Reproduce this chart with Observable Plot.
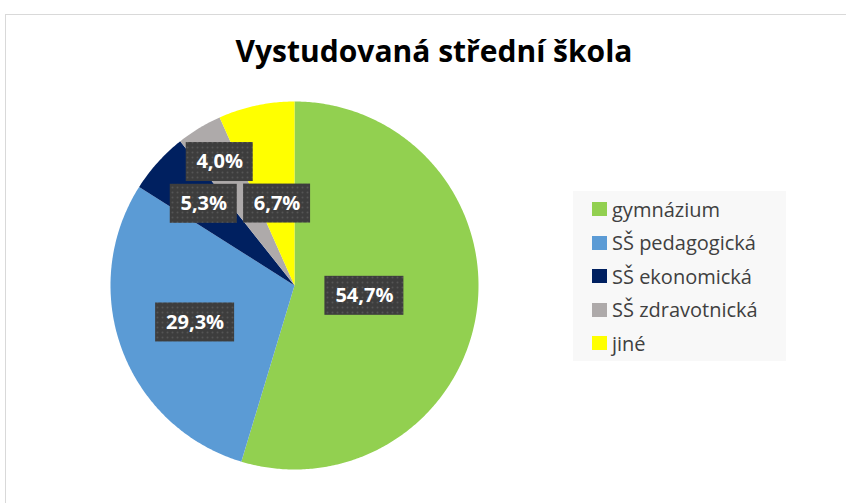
<!DOCTYPE html>
<html>
<head>
<meta charset="utf-8">
<script src="https://cdn.jsdelivr.net/npm/d3@7"></script>
<script src="https://cdn.jsdelivr.net/npm/@observablehq/plot@0.6"></script>
<style>
  html, body { margin: 0; padding: 0; background: #fff; }
  #wrap { position: relative; width: 846px; height: 503px; overflow: hidden; font-family: "Open Sans", sans-serif; }
  #frame { position: absolute; left: 5px; top: 14px; width: 900px; height: 600px; border-left: 1px solid #d9d9d9; border-top: 1px solid #d9d9d9; }
  #title { position: absolute; left: 434px; top: 36px; transform: translateX(-50%); white-space: nowrap;
           font-weight: 700; font-size: 30px; line-height: 30px; color: #000; }
  #chart { position: absolute; left: 0; top: 0; }
  #legend { position: absolute; left: 573px; top: 191px; width: 213px; height: 170px; background: #f8f8f8;
            box-sizing: border-box; padding: 0 0 0 19px; display: flex; flex-direction: column; justify-content: center; }
  .item { display: flex; align-items: center; height: 33.5px; font-size: 20px; color: #404040; }
  .sw { width: 15px; height: 14px; margin-right: 5px; flex: none; }
</style>
</head>
<body>
<div id="wrap">
  <div id="frame"></div>
  <div id="chart"></div>
  <div id="title">Vystudovaná střední škola</div>
  <div id="legend"></div>
</div>
<script>
// ---- data ----
const title = "Vystudovaná střední škola";
const categories = ["gymnázium", "SŠ pedagogická", "SŠ ekonomická", "SŠ zdravotnická", "jiné"];
const counts = [41, 22, 4, 3, 5];            // respondents (75 total)
const percentLabels = ["54,7%", "29,3%", "5,3%", "4,0%", "6,7%"];
const colors = ["#92D050", "#5B9BD5", "#002060", "#AEAAAA", "#FFFF00"];

// ---- layout ----
const W = 846, H = 503;
const cx = 294, cy = 285, R = 184;
const labelFont = "bold 20px 'Open Sans'";
const boxH = 39, boxPad = 10;

// pie angles (clockwise from 12 o'clock)
const pie = d3.pie().sort(null).value(d => d)(counts);

// slice polygons sampled along the arc (data units: unit circle, y up)
const slicePts = [];
pie.forEach((p, i) => {
  const cat = categories[i];
  slicePts.push({cat, x: 0, y: 0});
  const n = Math.max(2, Math.ceil((p.endAngle - p.startAngle) / 0.01));
  for (let k = 0; k <= n; k++) {
    const a = p.startAngle + (p.endAngle - p.startAngle) * k / n;
    slicePts.push({cat, x: Math.sin(a), y: Math.cos(a)});
  }
  slicePts.push({cat, x: 0, y: 0});
});

// label placement: area centroid of each sector, then radial overlap resolution
const ctx = document.createElement("canvas").getContext("2d");
ctx.font = labelFont;
const placed = [];
const labels = pie.map((p, i) => {
  const a = (p.startAngle + p.endAngle) / 2;
  const half = (p.endAngle - p.startAngle) / 2;
  const r0 = 2 * R * Math.sin(half) / (3 * half);
  const w = Math.ceil(ctx.measureText(percentLabels[i]).width) + 2 * boxPad;
  const box = r => ({x: r * Math.sin(a), y: -r * Math.cos(a), w, h: boxH});
  const hits = b => placed.some(q => Math.abs(q.x - b.x) < (q.w + b.w) / 2 + 2 && Math.abs(q.y - b.y) < (q.h + b.h) / 2 + 2);
  let chosen = box(r0);
  for (let d = 0; d < R; d++) {
    let found = null;
    for (const r of [r0 - d, r0 + d]) {
      if (r < 0.25 * R || r > 0.9 * R) continue;
      const b = box(r);
      if (!hits(b)) { found = b; break; }
    }
    if (found) { chosen = found; break; }
  }
  placed.push(chosen);
  return {
    text: percentLabels[i],
    x: chosen.x / R, y: -chosen.y / R,
    x1: (chosen.x - w / 2) / R, x2: (chosen.x + w / 2) / R,
    y1: (-chosen.y - boxH / 2) / R, y2: (-chosen.y + boxH / 2) / R
  };
});

// pattern defs for the label boxes
const defs = () => {
  const ns = "http://www.w3.org/2000/svg";
  const d = document.createElementNS(ns, "defs");
  d.innerHTML = `<pattern id="lblpat" width="5" height="5" patternUnits="userSpaceOnUse">
      <rect width="5" height="5" fill="#3d3d3d"></rect>
      <circle cx="2.5" cy="2.5" r="1" fill="#555555"></circle>
    </pattern>`;
  return d;
};

const chart = Plot.plot({
  width: W, height: H,
  margin: 0,
  x: {domain: [-1, 1], range: [cx - R, cx + R], axis: null},
  y: {domain: [-1, 1], range: [cy + R, cy - R], axis: null},
  color: {domain: categories, range: colors},
  style: {background: "transparent", overflow: "visible"},
  marks: [
    defs,
    Plot.line(slicePts, {x: "x", y: "y", z: "cat", fill: "cat", stroke: "none", curve: "linear"}),
    Plot.rect(labels, {x1: "x1", x2: "x2", y1: "y1", y2: "y2", fill: "url(#lblpat)"}),
    Plot.text(labels, {x: "x", y: "y", text: "text", fill: "white", fontSize: 20, fontWeight: "bold",
                       fontFamily: "Open Sans", textAnchor: "middle", lineAnchor: "middle"})
  ]
});
document.getElementById("chart").appendChild(chart);

// legend
const lg = document.getElementById("legend");
categories.forEach((c, i) => {
  const it = document.createElement("div");
  it.className = "item";
  it.innerHTML = `<span class="sw" style="background:${colors[i]}"></span><span>${c}</span>`;
  lg.appendChild(it);
});
document.getElementById("title").textContent = title;
</script>
</body>
</html>
